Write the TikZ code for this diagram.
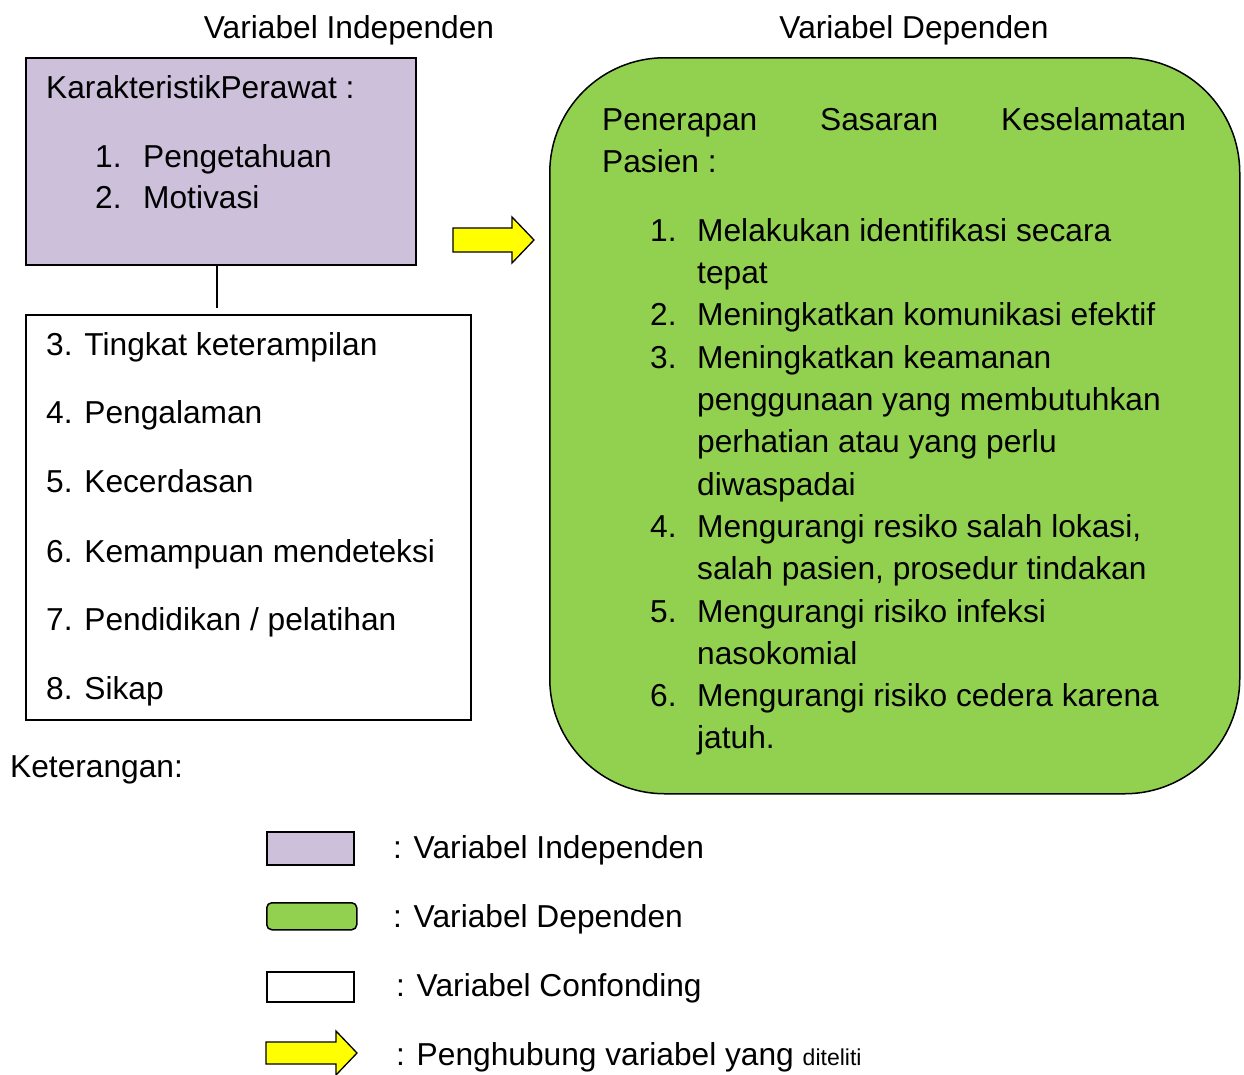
\documentclass[tikz,border=0pt]{standalone}
\usepackage{fontspec}
\setmainfont{Liberation Sans}
\definecolor{purp}{HTML}{CCC0DA}
\definecolor{grn}{HTML}{92D050}
\definecolor{yel}{HTML}{FFFF00}
\begin{document}
\begin{tikzpicture}[x=1pt,y=-1pt,
  txt/.style={anchor=base west, inner sep=0pt, font=\fontsize{31.7}{38}\selectfont},
  ctxt/.style={txt, anchor=base},
  box/.style={draw, line width=1.5pt, anchor=north west, inner sep=0pt},
  yarrow/.style={draw, line width=1.3pt, fill=yel, line join=miter}]
\useasboundingbox (0,0) rectangle (1244,1074);
\fill[white] (0,0) rectangle (1244,1074);

% titles
\node[ctxt] (t1) at (349,38) {Variabel Independen};
\node[ctxt] (t2) at (914,38) {Variabel Dependen};

% boxes
\node[box, fill=purp, minimum width=390, minimum height=207] (indep) at (25,57) {};
\node[box, minimum width=445, minimum height=405] (conf) at (25,314) {};
\node[box, fill=grn, rounded corners=115pt, minimum width=690, minimum height=736] (dep) at (549,57) {};
\coordinate (js) at ([xshift=-4pt]indep.south);
\coordinate (je) at (js |- conf.north);
\draw[line width=1.5pt] (js) -- ([yshift=6pt]je);

% arrow
\draw[yarrow] (453,228) -- (512,228) -- (512,217) -- (534,240) -- (512,263) -- (512,252) -- (453,252) -- cycle;

% independent text
\node[txt] (k0) at (46,98) {KarakteristikPerawat :};
\node[txt] (k1n) at (95,167) {1.};
\node[txt] (k1) at (143,167) {Pengetahuan};
\node[txt] (k2n) at (95,208) {2.};
\node[txt] (k2) at (143,208) {Motivasi};

% confounding text
\node[txt] (c3) at (46,355) {3. Tingkat keterampilan};
\node[txt] (c4) at (46,423) {4. Pengalaman};
\node[txt] (c5) at (46,492) {5. Kecerdasan};
\node[txt] (c6) at (46,562) {6. Kemampuan mendeteksi};
\node[txt] (c7) at (46,630) {7. Pendidikan / pelatihan};
\node[txt] (c8) at (46,699) {8. Sikap};

% dependent text
\node[txt] (d0) at (602,130) {\makebox[584pt][l]{Penerapan\hfill Sasaran\hfill Keselamatan}};
\node[txt] (d0b) at (602,172) {Pasien :};
\node[txt] (n1) at (650,241) {1.};
\node[txt] (n2) at (650,325) {2.};
\node[txt] (n3) at (650,368) {3.};
\node[txt] (n4) at (650,537) {4.};
\node[txt] (n5) at (650,622) {5.};
\node[txt] (n6) at (650,706) {6.};
\node[txt] (l1) at (697,241) {Melakukan identifikasi secara};
\node[txt] (l2) at (697,283) {tepat};
\node[txt] (l3) at (697,325) {Meningkatkan komunikasi efektif};
\node[txt] (l4) at (697,368) {Meningkatkan keamanan};
\node[txt] (l5) at (697,410) {penggunaan yang membutuhkan};
\node[txt] (l6) at (697,452) {perhatian atau yang perlu};
\node[txt] (l7) at (697,495) {diwaspadai};
\node[txt] (l8) at (697,537) {Mengurangi resiko salah lokasi,};
\node[txt] (l9) at (697,579) {salah pasien, prosedur tindakan};
\node[txt] (l10) at (697,622) {Mengurangi risiko infeksi};
\node[txt] (l11) at (697,664) {nasokomial};
\node[txt] (l12) at (697,706) {Mengurangi risiko cedera karena};
\node[txt] (l13) at (697,748) {jatuh.};

% legend
\node[txt] (ket) at (10,777) {Keterangan:};
\node[box, fill=purp, minimum width=87, minimum height=33] (lg1) at (266,831) {};
\node[box, fill=grn, rounded corners=5pt, minimum width=90, minimum height=27] (lg2) at (266,902) {};
\node[box, minimum width=87, minimum height=30] (lg3) at (266,971) {};
\draw[yarrow] (266,1042) -- (336,1042) -- (336,1031) -- (357,1053) -- (336,1075) -- (336,1064) -- (266,1064) -- cycle;
\node[txt] (lt1) at (393,858) {: Variabel Independen};
\node[txt] (lt2) at (393,927) {: Variabel Dependen};
\node[txt] (lt3) at (396,996) {: Variabel Confonding};
\node[txt] (lt4) at (396,1065) {: Penghubung variabel yang {\fontsize{23}{27}\selectfont diteliti}};
\end{tikzpicture}
\end{document}
